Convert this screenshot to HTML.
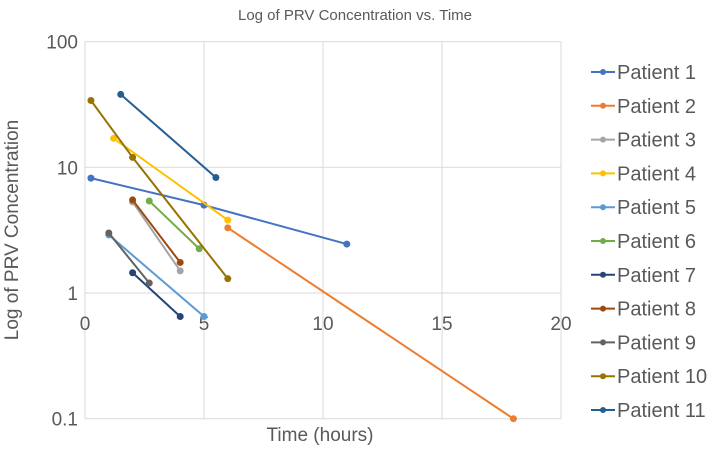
<!DOCTYPE html>
<html><head><meta charset="utf-8"><style>
body{margin:0;background:#fff;}
svg text{font-family:"Liberation Sans",sans-serif;fill:#595959;}
</style></head><body>
<svg width="709" height="446" viewBox="0 0 709 446" xmlns="http://www.w3.org/2000/svg">
<text x="355" y="20" text-anchor="middle" font-size="15">Log of PRV Concentration vs. Time</text>
<g id="grid"></g><g id="series"></g><g id="legend"></g>
<text x="320" y="441" text-anchor="middle" font-size="19">Time (hours)</text>
<text transform="translate(18,230) rotate(-90)" text-anchor="middle" font-size="19">Log of PRV Concentration</text>
</svg>
<script>
const names=["Patient 1","Patient 2","Patient 3","Patient 4","Patient 5","Patient 6","Patient 7","Patient 8","Patient 9","Patient 10","Patient 11"];
const colors=["#4472C4","#ED7D31","#A5A5A5","#FFC000","#5B9BD5","#70AD47","#264478","#9E480E","#636363","#997300","#255E91"];
const xs=[[0.25,5,11],[6,18],[2,4],[1.2,6],[1,5],[2.7,4.8],[2,4],[2,4],[1,2.7],[0.25,2,6],[1.5,5.5]];
const ys=[[8.2,5,2.45],[3.3,0.1],[5.3,1.5],[17,3.8],[2.9,0.65],[5.4,2.25],[1.45,0.65],[5.5,1.75],[3,1.2],[34,12,1.3],[38,8.3]];
const xTicks=[0,5,10,15,20];
const yTicks=[0.1,1,10,100];
const NS="http://www.w3.org/2000/svg";
const X=v=>85+v*23.8;
const Y=v=>293-Math.log10(v)*125.7;
function mk(t,a,p){const e=document.createElementNS(NS,t);for(const k in a)e.setAttribute(k,a[k]);p.appendChild(e);return e;}
const g=document.getElementById('grid');
xTicks.forEach(t=>{
 const l=mk('line',{x1:X(t),x2:X(t),y1:Y(100),y2:Y(0.1),stroke:'#d9d9d9','stroke-width':1},g);
 
 
 const tx=mk('text',{x:X(t),y:Y(1)+37,'text-anchor':'middle','font-size':19},g);tx.textContent=t;
 
 
});
yTicks.forEach(t=>{
 const l=mk('line',{x1:X(0),x2:X(20),y1:Y(t),y2:Y(t),stroke:'#d9d9d9','stroke-width':1},g);
 
 
 const tx=mk('text',{x:X(0)-7,y:Y(t)+7,'text-anchor':'end','font-size':19},g);tx.textContent=t;
 
 
});
const s=document.getElementById('series');
names.forEach((n,i)=>{
 const pts=xs[i].map((x,j)=>X(x)+','+Y(ys[i][j])).join(' ');
 const pl=mk('polyline',{points:pts,fill:'none',stroke:colors[i],'stroke-width':2},s);
 
 
 xs[i].forEach((x,j)=>{
  const c=mk('circle',{cx:X(x),cy:Y(ys[i][j]),r:3.5,fill:colors[i]},s);
  
  
 });
});
const lg=document.getElementById('legend');
names.forEach((n,i)=>{
 const y=72+i*33.8;
 const gg=mk('g',{},lg);
 
 
 mk('line',{x1:591,x2:615,y1:y,y2:y,stroke:colors[i],'stroke-width':2},gg);
 mk('circle',{cx:603,cy:y,r:3,fill:colors[i]},gg);
 const t=mk('text',{x:617,y:y+7,'font-size':20},gg);t.textContent=n;
});
</script>
</body></html>
